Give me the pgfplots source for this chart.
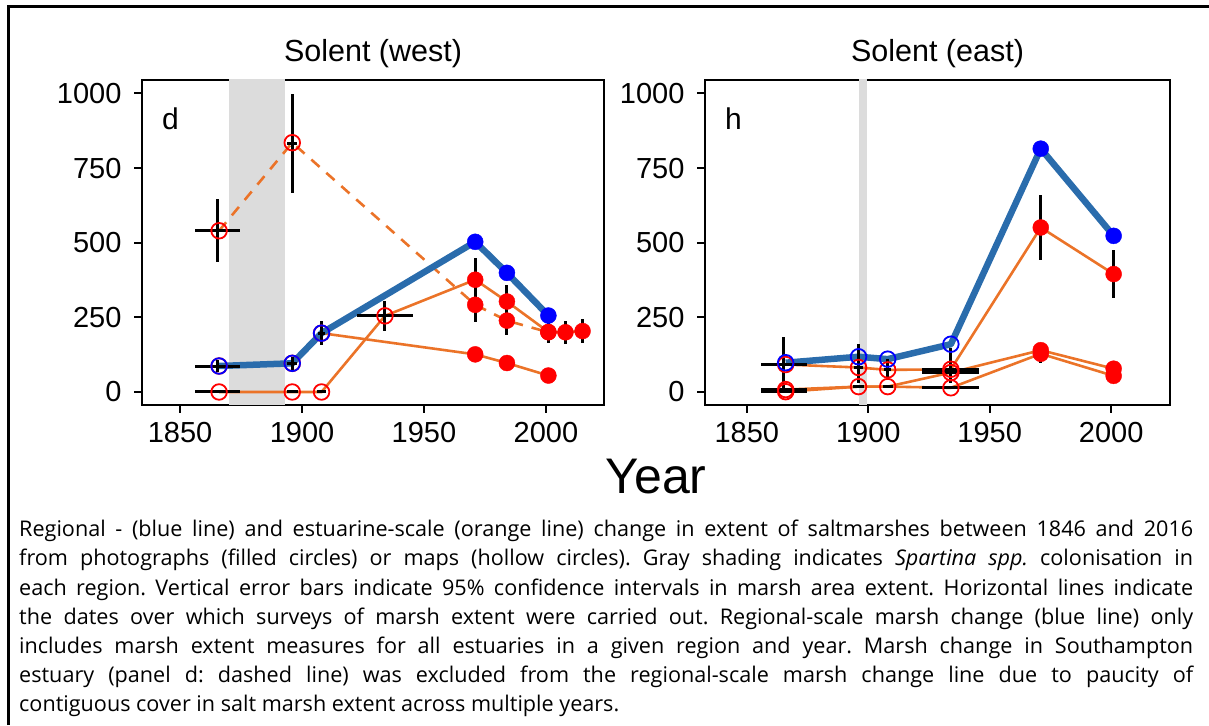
\documentclass[border=0pt]{standalone}
\usepackage{fontspec}
\setmainfont{Liberation Sans}
\newfontfamily\capfont{Open Sans}
\usepackage{pgfplots}
\pgfplotsset{compat=1.18}
\usepackage{pgfplotstable}

\definecolor{regblue}{RGB}{42,108,172}
\definecolor{estor}{RGB}{235,115,40}
\definecolor{shade}{RGB}{220,220,220}

% ---------- Panel d: Solent (west) ----------
\pgfplotstableread{
x y
1866 87
1896 96
1908 197
1971 503
1984 399
2001 256
}\westblue
\pgfplotstableread{
x y
1866 0
1896 0
1908 0
1934 255
1971 376
1984 303
2001 201
}\westA
\pgfplotstableread{
x y
1866 87
1896 96
1908 197
1971 126
1984 97
2001 55
}\westB
\pgfplotstableread{
x y
1866 540
1896 835
1971 292
1984 239
2001 200
2008 200
2015 204
}\westSoton
\pgfplotstableread{
x y
1866 540
1896 835
1866 0
1896 0
1908 0
1934 255
1866 87
1896 96
1908 197
}\westmaps
\pgfplotstableread{
x y
1971 376
1984 303
2001 201
1971 126
1984 97
2001 55
1971 292
1984 239
2001 200
2008 200
2015 204
}\westphotos
\pgfplotstableread{
x y ex ey
1865.3 540 9.3 105
1896 832 2 165
1865.3 87 9.3 20
1865.3 0 9.3 0
1896 96 2 22
1896 0 2.2 0
1908 197 1.5 40
1908 0 2 0
1934 255 11.6 50
1971 376 0 72
1971 292 0 56
1984 303 0 56
1984 239 0 48
1971 126 0 20
1984 97 0 18
2001 55 0 12
2001 201 0 38
2008 200 0 38
2015 204 0 39
}\westerr

% ---------- Panel h: Solent (east) ----------
\pgfplotstableread{
x y
1866 98
1896 118
1908 110
1934 160
1971 815
2001 523
}\eastblue
\pgfplotstableread{
x y
1866 92
1896 82
1908 74
1934 76
1971 551
2001 395
}\eastA
\pgfplotstableread{
x y
1866 8
1896 18
1908 18
1934 65
1971 140
2001 78
}\eastB
\pgfplotstableread{
x y
1866 1
1896 18
1908 18
1934 14
1971 128
2001 54
}\eastC
\pgfplotstableread{
x y
1866 92
1896 82
1908 74
1934 76
1866 8
1896 18
1908 18
1934 65
1866 1
1934 14
}\eastmaps
\pgfplotstableread{
x y
1971 551
2001 395
1971 140
2001 78
1971 128
2001 54
}\eastphotos
\pgfplotstableread{
x y ex ey
1865.3 95 0 88
1865.3 93 9.5 0
1865.3 8 9.5 0
1865.3 4 9.5 0
1865.3 0 9.5 0
1896 95 0 66
1896 82 2 0
1896 18 2.2 0
1908 74.5 0 34.5
1908 74 1.5 0
1908 18 2 0
1933.8 88.5 0 57.5
1933.8 74 11.8 0
1933.8 65 11.8 0
1933.8 14 11.8 0
1971 551 0 109
1971 131 0 33
2001 395 0 79
2001 66 0 26
}\easterr

\pgfplotsset{
  panel/.style={
    scale only axis, height=325pt,
    ymin=-43.6, ymax=1045,
    axis line style={line width=2.5pt, black},
    ytick={0,250,500,750,1000}, xtick={1850,1900,1950,2000},
    tick align=outside, major tick length=8pt,
    tick style={line width=2pt, black},
    xtick pos=left, ytick pos=left,
    ticklabel style={font=\fontsize{29}{29}\selectfont},
    /pgf/number format/assume math mode=true,
    /pgf/number format/1000 sep={},
    yticklabel style={xshift=-9pt},
    xticklabel style={yshift=-6pt},
  },
  regline/.style={regblue, line width=6.5pt, line join=round, mark=none},
  estline/.style={estor, line width=2.6pt, mark=none},
  mapmark/.style={only marks, mark=o, mark size=7.8pt, mark options={line width=1.8pt}},
  photomark/.style={only marks, mark=*, mark size=8pt},
  errs/.style={draw=none, mark=none,
    error bars/.cd, x dir=both, x explicit, y dir=both, y explicit,
    error mark=none, error bar style={draw=black, line width=3pt, solid}},
}

\begin{document}
\begin{tikzpicture}[x=1pt,y=1pt]
\useasboundingbox (0,0) rectangle (1209,725);
\draw[line width=3pt] (8,0) -- (8,718) -- (1212,718);

% Panel d
\begin{axis}[panel, at={(142pt,320pt)}, anchor=south west, width=462pt,
  xmin=1834.4, xmax=2023.8]
  \addplot[fill=shade, draw=none] coordinates {(1870,-100) (1893,-100) (1893,1100) (1870,1100)} -- cycle;
  \addplot[estline] table[x=x,y=y] {\westA};
  \addplot[estline] table[x=x,y=y] {\westB};
  \addplot[estline, dash pattern=on 11pt off 9pt] table[x=x,y=y] {\westSoton};
  \addplot[regline] table[x=x,y=y] {\westblue};
  \addplot[mapmark, red] table[x=x,y=y] {\westmaps};
  \addplot[photomark, red] table[x=x,y=y] {\westphotos};
  \addplot[mapmark, blue] coordinates {(1866,87) (1896,96) (1908,197)};
  \addplot[photomark, blue] coordinates {(1971,503) (1984,399) (2001,256)};
  \addplot[errs] table[x=x,y=y,x error=ex,y error=ey] {\westerr};
\end{axis}

% Panel h
\begin{axis}[panel, at={(705pt,320pt)}, anchor=south west, width=465pt,
  xmin=1832.8, xmax=2024.2]
  \addplot[fill=shade, draw=none] coordinates {(1896,-100) (1899.5,-100) (1899.5,1100) (1896,1100)} -- cycle;
  \addplot[estline] table[x=x,y=y] {\eastA};
  \addplot[estline] table[x=x,y=y] {\eastB};
  \addplot[estline] table[x=x,y=y] {\eastC};
  \addplot[regline] table[x=x,y=y] {\eastblue};
  \addplot[mapmark, red] table[x=x,y=y] {\eastmaps};
  \addplot[photomark, red] table[x=x,y=y] {\eastphotos};
  \addplot[mapmark, blue] coordinates {(1866,98) (1896,118) (1908,110) (1934,160)};
  \addplot[photomark, blue] coordinates {(1971,815) (2001,523)};
  \addplot[errs] table[x=x,y=y,x error=ex,y error=ey] {\easterr};
\end{axis}

% titles, panel letters, shared x label
\node[anchor=base, font=\fontsize{30.5}{30.5}\selectfont] at (373,663) {Solent (west)};
\node[anchor=base, font=\fontsize{30.5}{30.5}\selectfont] at (937.5,663) {Solent (east)};
\node[anchor=base west, inner sep=0, font=\fontsize{30}{30}\selectfont] at (162,595) {d};
\node[anchor=base west, inner sep=0, font=\fontsize{30}{30}\selectfont] at (725,595) {h};
\node[anchor=base, font=\fontsize{50}{50}\selectfont] at (656,231) {Year};

% caption
\node[anchor=north west, inner sep=0, text width=1174pt, align=justify,
  font=\capfont\fontsize{21.6}{29.2}\selectfont] at (19,205) {%
\frenchspacing\hyphenpenalty=10000 \tolerance=9999 \hfuzz=50pt
Regional - (blue line) and estuarine-scale (orange line) change in extent of saltmarshes between 1846 and 2016\linebreak
from photographs (filled circles) or maps (hollow circles). Gray shading indicates \textit{Spartina spp.} colonisation in\linebreak
each region. Vertical error bars indicate 95\% confidence intervals in marsh area extent. Horizontal lines indicate\linebreak
the dates over which surveys of marsh extent were carried out. Regional-scale marsh change (blue line) only\linebreak
includes marsh extent measures for all estuaries in a given region and year. Marsh change in Southampton\linebreak
estuary (panel d: dashed line) was excluded from the regional-scale marsh change line due to paucity of\linebreak
contiguous cover in salt marsh extent across multiple years.};
\end{tikzpicture}
\end{document}
